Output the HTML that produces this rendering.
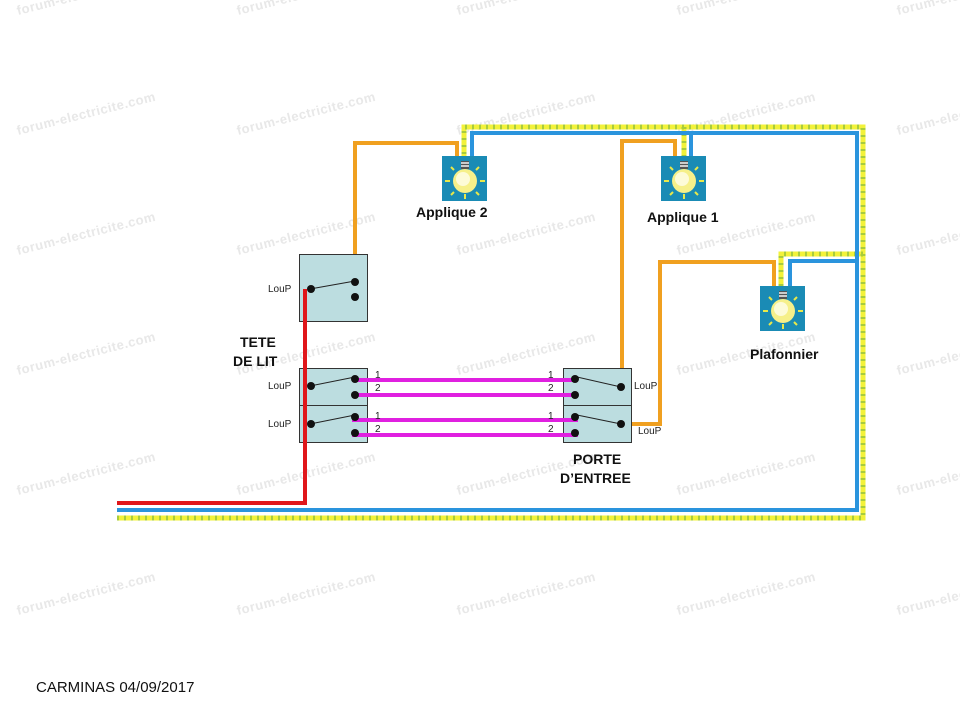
<!DOCTYPE html>
<html><head><meta charset="utf-8"><style>
html,body{margin:0;padding:0;background:#fff;}
svg{display:block;font-family:"Liberation Sans",sans-serif;}
</style></head><body>
<svg width="960" height="720" viewBox="0 0 960 720" xmlns="http://www.w3.org/2000/svg">
<defs>
<g id="bulb">
<rect x="0" y="0" width="45" height="45" fill="#1a8bb5"/>
<rect x="19" y="5" width="8" height="8" fill="#555"/>
<rect x="19" y="6" width="8" height="2" fill="#ccc"/>
<rect x="19" y="9" width="8" height="2" fill="#ccc"/>
<circle cx="23" cy="25" r="12" fill="#f6f08a"/>
<circle cx="21" cy="23" r="7" fill="#fdfbd8"/>
<g stroke="#e8e84a" stroke-width="2">
<line x1="23" y1="38" x2="23" y2="43"/><line x1="8" y1="25" x2="3" y2="25"/><line x1="38" y1="25" x2="43" y2="25"/>
<line x1="12" y1="14" x2="9" y2="11"/><line x1="34" y1="14" x2="37" y2="11"/>
<line x1="12" y1="36" x2="9" y2="39"/><line x1="34" y1="36" x2="37" y2="39"/>
</g>
</g>
</defs>
<!-- watermarks -->
<g fill="#e8e8e8" font-size="13" font-weight="bold" letter-spacing="0.5">
<text transform="translate(18,15) rotate(-14)">forum-electricite.com</text>
<text transform="translate(238,15) rotate(-14)">forum-electricite.com</text>
<text transform="translate(458,15) rotate(-14)">forum-electricite.com</text>
<text transform="translate(678,15) rotate(-14)">forum-electricite.com</text>
<text transform="translate(898,15) rotate(-14)">forum-electricite.com</text>
<text transform="translate(18,135) rotate(-14)">forum-electricite.com</text>
<text transform="translate(238,135) rotate(-14)">forum-electricite.com</text>
<text transform="translate(458,135) rotate(-14)">forum-electricite.com</text>
<text transform="translate(678,135) rotate(-14)">forum-electricite.com</text>
<text transform="translate(898,135) rotate(-14)">forum-electricite.com</text>
<text transform="translate(18,255) rotate(-14)">forum-electricite.com</text>
<text transform="translate(238,255) rotate(-14)">forum-electricite.com</text>
<text transform="translate(458,255) rotate(-14)">forum-electricite.com</text>
<text transform="translate(678,255) rotate(-14)">forum-electricite.com</text>
<text transform="translate(898,255) rotate(-14)">forum-electricite.com</text>
<text transform="translate(18,375) rotate(-14)">forum-electricite.com</text>
<text transform="translate(238,375) rotate(-14)">forum-electricite.com</text>
<text transform="translate(458,375) rotate(-14)">forum-electricite.com</text>
<text transform="translate(678,375) rotate(-14)">forum-electricite.com</text>
<text transform="translate(898,375) rotate(-14)">forum-electricite.com</text>
<text transform="translate(18,495) rotate(-14)">forum-electricite.com</text>
<text transform="translate(238,495) rotate(-14)">forum-electricite.com</text>
<text transform="translate(458,495) rotate(-14)">forum-electricite.com</text>
<text transform="translate(678,495) rotate(-14)">forum-electricite.com</text>
<text transform="translate(898,495) rotate(-14)">forum-electricite.com</text>
<text transform="translate(18,615) rotate(-14)">forum-electricite.com</text>
<text transform="translate(238,615) rotate(-14)">forum-electricite.com</text>
<text transform="translate(458,615) rotate(-14)">forum-electricite.com</text>
<text transform="translate(678,615) rotate(-14)">forum-electricite.com</text>
<text transform="translate(898,615) rotate(-14)">forum-electricite.com</text>
</g>

<g fill="none" stroke-linejoin="miter">
<path d="M117,518 H863 V127 H464 V156 M684,127 V156 M863,254 H781 V286" stroke="#f2f23a" stroke-width="5"/>
<path d="M117,518 H863 V127 H464 V156 M684,127 V156 M863,254 H781 V286" stroke="#a8cc3c" stroke-width="5" stroke-dasharray="2 5"/>
<path d="M117,510 H857 V133 H472 V156 M691,133 V156 M857,261 H790 V286" stroke="#2a94dd" stroke-width="4"/>
<path d="M355,283 V143 H457 V156" stroke="#f0a020" stroke-width="4"/>
<path d="M622,387 V141 H675 V156" stroke="#f0a020" stroke-width="4"/>
<path d="M621,424 H660 V262 H774 V286" stroke="#f0a020" stroke-width="4"/>
</g>

<g fill="#bcdde0" stroke="#333" stroke-width="1">
<rect x="299.5" y="254.5" width="68" height="67"/>
<rect x="299.5" y="368.5" width="68" height="37"/>
<rect x="299.5" y="405.5" width="68" height="37"/>
<rect x="563.5" y="368.5" width="68" height="37"/>
<rect x="563.5" y="405.5" width="68" height="37"/>
</g>

<path d="M117,503 H305 V289" fill="none" stroke="#e0161a" stroke-width="4"/>

<g stroke="#e020e0" stroke-width="4">
<line x1="357" y1="380" x2="576" y2="380"/>
<line x1="357" y1="395" x2="576" y2="395"/>
<line x1="352" y1="420" x2="578" y2="420"/>
<line x1="352" y1="435" x2="578" y2="435"/>
</g>

<g stroke="#222" stroke-width="1">
<line x1="310" y1="289" x2="355" y2="281"/>
<line x1="310" y1="386" x2="355" y2="377"/>
<line x1="310" y1="424" x2="355" y2="415"/>
<line x1="577" y1="377" x2="621" y2="387"/>
<line x1="577" y1="415" x2="621" y2="424"/>
</g>
<g fill="#111">
<circle cx="311" cy="289" r="4"/><circle cx="355" cy="282" r="4"/><circle cx="355" cy="297" r="4"/>
<circle cx="311" cy="386" r="4"/><circle cx="355" cy="379" r="4"/><circle cx="355" cy="395" r="4"/>
<circle cx="311" cy="424" r="4"/><circle cx="355" cy="417" r="4"/><circle cx="355" cy="433" r="4"/>
<circle cx="575" cy="379" r="4"/><circle cx="575" cy="395" r="4"/><circle cx="621" cy="387" r="4"/>
<circle cx="575" cy="417" r="4"/><circle cx="575" cy="433" r="4"/><circle cx="621" cy="424" r="4"/>
</g>

<use href="#bulb" x="442" y="156"/>
<use href="#bulb" x="661" y="156"/>
<use href="#bulb" x="760" y="286"/>

<g font-size="10" fill="#222">
<text x="268" y="292">LouP</text>
<text x="268" y="389">LouP</text>
<text x="268" y="427">LouP</text>
<text x="634" y="389">LouP</text>
<text x="638" y="434">LouP</text>
<text x="375" y="378">1</text><text x="375" y="391">2</text>
<text x="375" y="419">1</text><text x="375" y="432">2</text>
<text x="548" y="378">1</text><text x="548" y="391">2</text>
<text x="548" y="419">1</text><text x="548" y="432">2</text>
</g>
<g font-size="14" font-weight="bold" fill="#111">
<text x="416" y="217">Applique 2</text>
<text x="647" y="222">Applique 1</text>
<text x="750" y="359">Plafonnier</text>
<text x="240" y="347">TETE</text>
<text x="233" y="366">DE LIT</text>
<text x="573" y="464">PORTE</text>
<text x="560" y="483">D’ENTREE</text>
</g>
<text x="36" y="692" font-size="15" fill="#111">CARMINAS 04/09/2017</text>
</svg>
</body></html>
